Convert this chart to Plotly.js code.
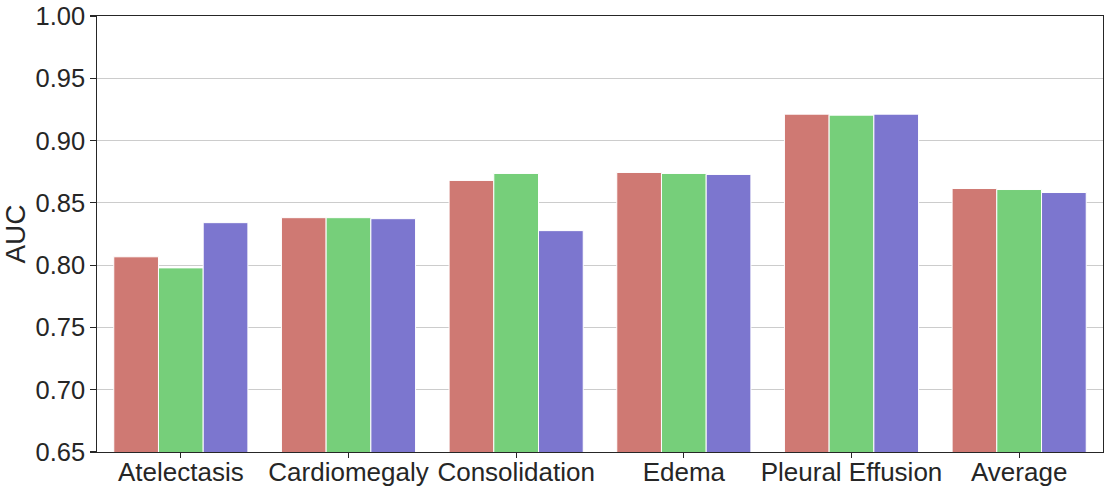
<!DOCTYPE html>
<html>
<head>
<meta charset="utf-8">
<script src="https://cdn.plot.ly/plotly-3.0.1.min.js"></script>
<style>
  html, body { margin: 0; padding: 0; background: #fff; }
  #chart { width: 1109px; height: 492px; }
</style>
</head>
<body>
<div id="chart"></div>
<script>
// AUC per finding, three models
let categories = ['Atelectasis', 'Cardiomegaly', 'Consolidation', 'Edema', 'Pleural Effusion', 'Average'];
let modelA = [0.8067, 0.8381, 0.8680, 0.8744, 0.9212, 0.8615];
let modelB = [0.7978, 0.8381, 0.8736, 0.8736, 0.9204, 0.8607];
let modelC = [0.8341, 0.8373, 0.8277, 0.8728, 0.9212, 0.8583];
let yTicks = [0.65, 0.70, 0.75, 0.80, 0.85, 0.90, 0.95, 1.00];

let colors = ['rgb(207,121,115)', 'rgb(118,207,122)', 'rgb(124,118,207)'];
let series = [modelA, modelB, modelC];

let traces = series.map((vals, i) => ({
    x: categories,
    y: vals,
    type: 'bar',
    base: 0,
    marker: {
        color: colors[i],
        line: { color: '#ffffff', width: 1 }
    },
    showlegend: false
}));

let fontFamily = 'Liberation Sans, Arial, sans-serif';

let layout = {
    width: 1109,
    height: 492,
    margin: { l: 97, r: 6, t: 16, b: 40 },
    paper_bgcolor: '#ffffff',
    plot_bgcolor: '#ffffff',
    barmode: 'group',
    bargap: 0.2,
    bargroupgap: 0,
    xaxis: {
        tickfont: { family: fontFamily, size: 26, color: '#262626' },
        ticks: 'outside',
        ticklen: 5,
        tickwidth: 1.25,
        tickcolor: '#262626',
        ticklabelstandoff: -8,
        showline: true,
        mirror: true,
        linecolor: '#262626',
        linewidth: 1.25,
        showgrid: false
    },
    yaxis: {
        range: [0.65, 1.0],
        tickvals: yTicks,
        ticktext: yTicks.map(v => v.toFixed(2)),
        tickfont: { family: fontFamily, size: 25.5, color: '#262626' },
        ticks: 'outside',
        ticklen: 5.5,
        tickwidth: 1.25,
        tickcolor: '#262626',
        showline: true,
        mirror: true,
        linecolor: '#262626',
        linewidth: 1.25,
        showgrid: true,
        gridcolor: '#cccccc',
        gridwidth: 1,
        zeroline: false,
        title: { text: 'AUC', font: { family: fontFamily, size: 28, color: '#262626' }, standoff: 6 }
    }
};

Plotly.newPlot('chart', traces, layout, { displayModeBar: false, staticPlot: true });
</script>
</body>
</html>
